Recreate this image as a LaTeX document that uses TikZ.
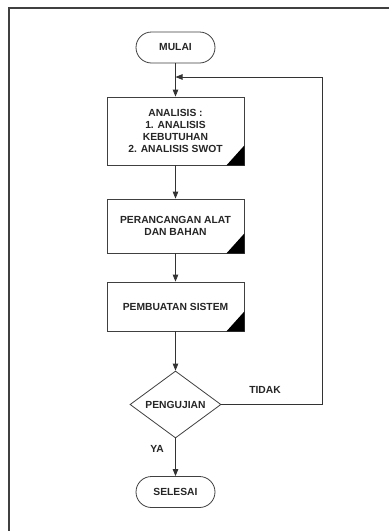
\documentclass[tikz,border=0pt]{standalone}
\usepackage{fontspec}
\setmainfont{Liberation Sans}
\usetikzlibrary{shapes.geometric,arrows.meta}
\begin{document}
\begin{tikzpicture}[x=1pt,y=-1pt,
  every node/.style={font=\bfseries\fontsize{10.3}{12.1}\selectfont, text=black!85},
  proc/.style={draw=black!75, line width=0.8pt, minimum width=137pt, align=center, inner sep=0pt},
  term/.style={draw=black!75, line width=0.8pt, minimum width=79pt, minimum height=31pt, rounded corners=15.5pt, inner sep=0pt},
  decis/.style={draw=black!75, line width=0.8pt, diamond, minimum width=91pt, minimum height=67pt, aspect=1.36, inner sep=0pt},
  conn/.style={draw=black!80, line width=0.8pt},
  arr/.style={conn, -{Triangle[length=7pt,width=5.5pt]}},
  lbl/.style={inner sep=0pt}
]
\useasboundingbox (0,0) rectangle (389,531);
\fill[white] (0,0) rectangle (389,531);
\draw[black!75, line width=1.2pt] (9,531) -- (9,8) -- (389,8);

\node[term] (mulai) at (175.5,47.5) {MULAI};
\node[proc, minimum height=68pt] (analisis) at (175.5,131) {ANALISIS :\\1. ANALISIS\\KEBUTUHAN\\2. ANALISIS SWOT};
\node[proc, minimum height=54pt] (rancang) at (175.5,226) {PERANCANGAN ALAT\\DAN BAHAN};
\node[proc, minimum height=49pt] (buat) at (175.5,306.5) {PEMBUATAN SISTEM};
\node[decis] (uji) at (175.5,404.5) {PENGUJIAN};
\node[term] (selesai) at (175.5,492) {SELESAI};

\foreach \n in {analisis,rancang,buat}{
  \fill[black] (\n.south east) -- ++(-18,0) -- ++(18,-20) -- cycle;
}

\coordinate (join) at (175.5,77);
\coordinate (rt) at (322,404.5);
\coordinate (rtop) at (322,77);

\draw[arr] (mulai.south) -- (analisis.north);
\draw[arr] (analisis.south) -- (rancang.north);
\draw[arr] (rancang.south) -- (buat.north);
\draw[arr] (buat.south) -- (uji.north);
\draw[arr] (uji.south) -- (selesai.north);
\draw[arr] (uji.east) -- (rt) -- (rtop) -- (join);

\node[lbl] (tidak) at (265,390) {TIDAK};
\node[lbl] (ya) at (157,449) {YA};
\end{tikzpicture}
\end{document}
